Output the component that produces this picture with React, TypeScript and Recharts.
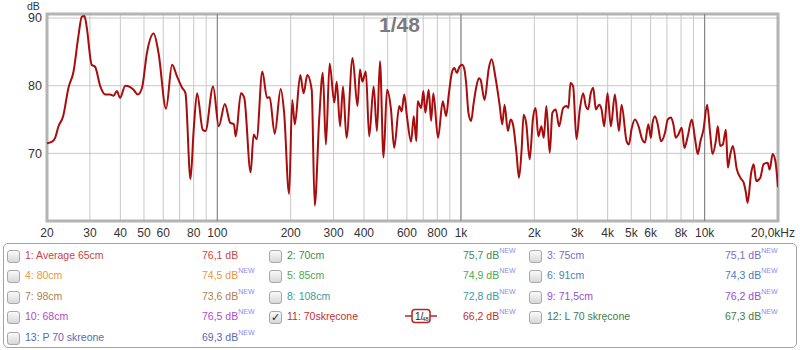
import React from 'react';
import {
  LineChart,
  Line,
  XAxis,
  YAxis,
  CartesianGrid,
  ReferenceLine,
  ReferenceArea,
} from 'recharts';

// Frequency response (Hz / dB)
const FREQ = [
  20, 20.9, 21.6, 22.3, 23.3, 24.5, 25.7, 26.9, 27.8, 28.5, 29.1, 30.5, 31.5, 33.1, 34.7, 36.3, 37.5, 38.7, 39.9,
  41.9, 43.9, 45.3, 47.2, 49.1, 51.4, 54.8, 57.4, 61.6, 65.2, 68.3, 71.7, 74.0, 77.6, 80.0, 82.6, 87.1, 89.4,
  96.1, 101.4, 107.4, 113, 117, 119, 125, 129, 137, 141, 145, 153, 160, 164, 172, 182, 188, 197, 203, 208, 219,
  226, 234, 244, 251, 262, 271, 279, 289, 302, 309, 319, 328, 339, 359, 376, 385, 394, 407, 420, 438, 452, 465,
  481, 497, 516, 532, 558, 571, 585, 600, 624, 640, 656, 664, 686, 701, 714, 737, 754, 770, 805, 842, 869, 891,
  920, 940, 961, 986, 1011, 1033, 1050, 1073, 1101, 1125, 1154, 1184, 1203, 1249, 1301, 1335, 1387, 1440, 1477,
  1510, 1558, 1598, 1634, 1687, 1730, 1774, 1808, 1854, 1914, 1975, 2025, 2077, 2138, 2186, 2241, 2313, 2372,
  2448, 2527, 2625, 2709, 2761, 2813, 2886, 2978, 3074, 3172, 3253, 3326, 3401, 3488, 3577, 3691, 3774, 3870,
  3994, 4122, 4282, 4448, 4560, 4782, 4888, 5013, 5176, 5377, 5514, 5689, 5872, 6022, 6099, 6256, 6417, 6622,
  6878, 7054, 7278, 7441, 7608, 7802, 8052, 8258, 8522, 8852, 9136, 9370, 9610, 9888, 10238, 10532, 10766,
  11112, 11324, 11578, 11874, 12218, 12452, 12730, 13056, 13562, 14130, 14446, 14768, 15004, 15534, 15882,
  16286, 16916, 17460, 18136, 18482, 19012, 19498, 20000,
];
const SPL = [
  71.5, 71.7, 72.3, 74.0, 75.5, 79.7, 82.1, 87.3, 90.2, 90.3, 88.7, 83.1, 82.8, 79.9, 78.7, 78.7, 78.5, 79.2, 78.2,
  80.0, 79.8, 79.4, 78.7, 79.7, 84.8, 87.7, 84.8, 76.6, 83.1, 81.4, 79.7, 78.9, 66.2, 73.5, 78.9, 73.5, 73.3,
  79.9, 74.0, 77.3, 74.5, 74.3, 72.5, 78.9, 78.2, 67.2, 72.8, 72.1, 82.1, 78.2, 78.3, 72.9, 79.5, 76.0, 64.0, 77.9,
  74.3, 81.6, 78.9, 81.6, 79.4, 62.3, 75.2, 81.9, 71.3, 83.3, 77.5, 80.6, 74.0, 79.9, 72.3, 84.1, 77.0, 82.4, 80.6,
  82.1, 72.5, 79.9, 73.3, 83.6, 69.4, 79.4, 76.5, 70.8, 77.0, 76.2, 78.7, 75.5, 71.7, 75.5, 71.8, 77.7, 76.7, 79.2,
  76.0, 79.4, 74.8, 78.9, 72.3, 77.7, 75.5, 78.7, 82.1, 82.6, 81.9, 82.8, 83.1, 82.4, 80.4, 76.0, 74.8, 77.2, 79.7,
  81.1, 80.9, 77.9, 82.6, 83.9, 81.1, 77.2, 74.3, 77.2, 73.3, 75.0, 74.3, 70.3, 66.4, 70.6, 75.7, 74.3, 69.1, 75.2,
  76.7, 72.5, 74.0, 72.3, 77.0, 70.1, 76.0, 76.5, 74.0, 76.7, 77.0, 76.7, 80.4, 79.9, 72.1, 76.5, 78.9, 77.0, 76.5,
  78.7, 79.7, 76.5, 77.2, 76.5, 74.0, 78.9, 74.0, 78.7, 73.3, 77.2, 71.8, 71.3, 73.6, 75.0, 73.8, 72.3, 71.6, 74.3,
  72.3, 74.3, 75.5, 74.3, 71.8, 73.1, 75.0, 75.3, 74.3, 72.3, 72.8, 73.8, 70.8, 72.5, 75.0, 72.1, 69.9, 71.8, 73.5,
  77.2, 73.0, 69.9, 71.8, 74.0, 71.1, 71.3, 73.5, 67.9, 69.8, 71.1, 67.6, 66.2, 65.7, 64.2, 62.7, 67.2, 68.4, 65.9,
  66.4, 68.4, 68.6, 67.6, 69.9, 68.9, 65.0,
];

const X_TICKS = [
  20, 30, 40, 50, 60, 70, 80, 90, 100, 200, 300, 400, 500, 600, 700, 800, 900, 1000, 2000, 3000, 4000, 5000,
  6000, 7000, 8000, 9000, 10000, 20000,
];
const X_LABELS: Record<number, string> = {
  20: '20', 30: '30', 40: '40', 50: '50', 60: '60', 80: '80', 100: '100', 200: '200', 300: '300', 400: '400',
  600: '600', 800: '800', 1000: '1k', 2000: '2k', 3000: '3k', 4000: '4k', 5000: '5k', 6000: '6k', 8000: '8k',
  10000: '10k', 20000: '20,0kHz',
};
const DECADES = [100, 1000, 10000];
const Y_TICKS = [70, 80, 90];
const Y_TOP = 90.6;

// legend table: [label, value, colour, checked]
const LEGEND_COL1 = [
  ['1: Average 65cm', '76,1 dB', '#c84444', false],
  ['4: 80cm', '74,5 dB', '#e8983a', false],
  ['7: 98cm', '73,6 dB', '#b0804e', false],
  ['10: 68cm', '76,5 dB', '#b04cc8', false],
  ['13: P 70 skreone', '69,3 dB', '#5a68b0', false],
];
const LEGEND_COL2 = [
  ['2: 70cm', '75,7 dB', '#3c8c5c', false],
  ['5: 85cm', '74,9 dB', '#4caa4c', false],
  ['8: 108cm', '72,8 dB', '#3c9c9c', false],
  ['11: 70skręcone', '66,2 dB', '#c03030', true],
];
const LEGEND_COL3 = [
  ['3: 75cm', '75,1 dB', '#7070c8', false],
  ['6: 91cm', '74,3 dB', '#4c7cbc', false],
  ['9: 71,5cm', '76,2 dB', '#9c4cd0', false],
  ['12: L 70 skręcone', '67,3 dB', '#3c7c50', false],
];

const data = FREQ.map((f, i) => ({ f, db: SPL[i] }));
const FONT = 'Arial, "Liberation Sans", sans-serif';

const XTick = ({ x, y, payload }: any) => {
  const lbl = X_LABELS[payload.value];
  if (!lbl) return null;
  const last = payload.value === 20000;
  return (
    <text x={last ? 795 : x} y={y} dy="0.71em" textAnchor={last ? 'end' : 'middle'} fontSize={12} fill="#333" fontFamily={FONT}>
      {lbl}
    </text>
  );
};

const Checkbox = ({ checked }: { checked: boolean }) => (
  <div
    style={{
      position: 'absolute', width: 11, height: 11, border: '1px solid #a8a8a8', borderRadius: 3,
      background: 'linear-gradient(#fafafa, #d8d8d8)', fontSize: 11, lineHeight: '11px', textAlign: 'center', color: '#222',
    }}
  >
    {checked ? '✓' : ''}
  </div>
);

const LegendColumn = ({ rows, boxX, valueX }: { rows: any[]; boxX: number; valueX: number }) => (
  <>
    {rows.map((r, i) => {
      const top = 250 + i * 20.4;
      return (
        <React.Fragment key={r[0]}>
          <div style={{ position: 'absolute', left: boxX, top }}>
            <Checkbox checked={r[3]} />
          </div>
          <div style={{ position: 'absolute', left: boxX + 18, top: top - 1, color: r[2], fontSize: 10.5, whiteSpace: 'nowrap' }}>{r[0]}</div>
          <div style={{ position: 'absolute', left: valueX, top: top - 1, color: r[2], fontSize: 10.5, whiteSpace: 'nowrap' }}>
            {r[1]}
            {r[0].startsWith('1:') ? null : (
              <sup style={{ color: '#8c8cf0', fontSize: 7, verticalAlign: 'top', position: 'relative', top: -2 }}>NEW</sup>
            )}
          </div>
        </React.Fragment>
      );
    })}
  </>
);

export default function App() {
  return (
    <div style={{ position: 'absolute', left: 0, top: 0, width: 800, height: 350, background: '#fff', fontFamily: FONT }}>
      <LineChart width={800} height={240} data={data} margin={{ top: 14, right: 22, bottom: 0, left: 0 }}>
        <CartesianGrid stroke="#c8c8c8" strokeWidth={1} />
        {DECADES.map((d) => (
          <ReferenceLine key={d} x={d} stroke="#7c7c7c" strokeWidth={1} />
        ))}
        <XAxis
          dataKey="f"
          type="number"
          scale="log"
          domain={[20, 20000]}
          allowDataOverflow
          ticks={X_TICKS}
          interval={0}
          height={19}
          tickSize={0}
          tickMargin={7}
          axisLine={false}
          tickLine={false}
          tick={<XTick />}
        />
        <YAxis
          type="number"
          domain={[60, Y_TOP]}
          allowDataOverflow
          ticks={Y_TICKS}
          width={47}
          tickSize={0}
          tickMargin={5}
          axisLine={false}
          tickLine={false}
          tick={{ fontSize: 12.5, fill: '#333', fontFamily: FONT }}
        />
        <ReferenceArea x1={20} x2={20000} y1={60} y2={Y_TOP} fill="none" stroke="#b4b4b4" strokeWidth={3} />
        <Line type="monotone" dataKey="db" stroke="#a80c0c" strokeWidth={2} dot={false} isAnimationActive={false} />
      </LineChart>

      <div style={{ position: 'absolute', left: 27, top: 1, fontSize: 10.5, lineHeight: '10px', color: '#333' }}>dB</div>
      <div style={{ position: 'absolute', left: 379, top: 13, fontSize: 21, fontWeight: 'bold', color: '#7a7a7a' }}>1/48</div>

      <div
        style={{
          position: 'absolute', left: 3, top: 243, width: 792, height: 103, border: '1px solid #a4a4a4', borderRadius: 5,
        }}
      />
      <LegendColumn rows={LEGEND_COL1} boxX={7} valueX={202} />
      <LegendColumn rows={LEGEND_COL2} boxX={269} valueX={463} />
      <LegendColumn rows={LEGEND_COL3} boxX={529} valueX={725} />

      <svg style={{ position: 'absolute', left: 404, top: 308 }} width={34} height={16}>
        <line x1={1} y1={8} x2={33} y2={8} stroke="#c02020" strokeWidth={1.5} />
        <rect x={8} y={1.5} width={18} height={13} rx={3} fill="#fff" stroke="#c02020" strokeWidth={1.5} />
        <text x={11} y={12} fontSize={10} fill="#222" fontFamily={FONT}>1/</text>
        <text x={18} y={13} fontSize={6} fill="#222" fontFamily={FONT}>48</text>
      </svg>
    </div>
  );
}
